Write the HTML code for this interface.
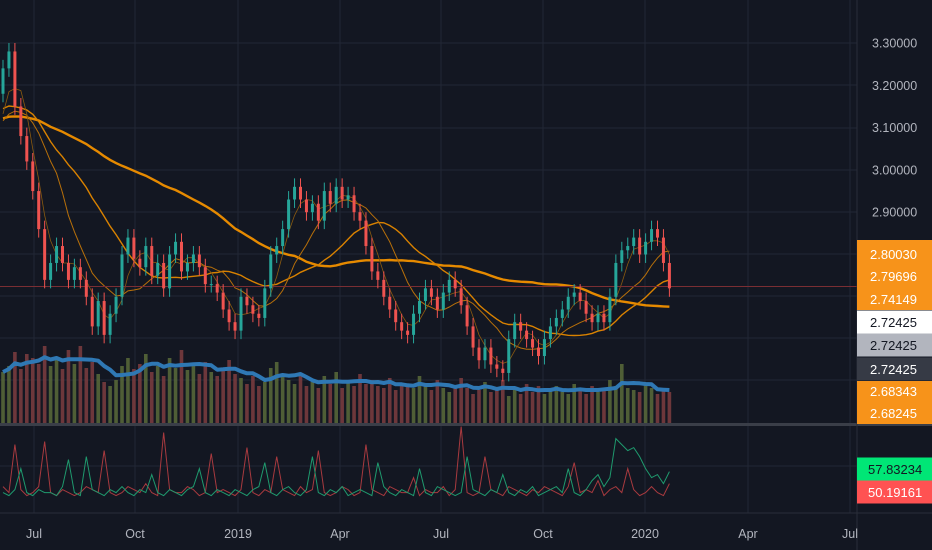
<!DOCTYPE html>
<html><head><meta charset="utf-8"><style>
html,body{margin:0;padding:0;background:#131722;width:932px;height:550px;overflow:hidden;font-family:"Liberation Sans",sans-serif}
svg{display:block}
</style></head><body>
<svg id="chart" width="932" height="550" xmlns="http://www.w3.org/2000/svg">
<rect x="0" y="0" width="932" height="550" fill="#131722"/>
<g id="grid"></g>
<g id="vol"></g>
<g id="mas"></g>
<g id="candles"></g>
<g id="osc"></g>
<g id="axes"></g>
</svg>
<script>
const closes=[3.24,3.28,3.15,3.08,3.02,2.95,2.86,2.74,2.78,2.82,2.78,2.74,2.77,2.74,2.70,2.63,2.69,2.61,2.66,2.70,
2.80,2.84,2.79,2.77,2.82,2.75,2.78,2.72,2.80,2.83,2.76,2.78,2.80,2.77,2.73,2.73,2.71,2.67,2.64,2.62,
2.70,2.68,2.66,2.65,2.72,2.80,2.82,2.86,2.93,2.96,2.93,2.90,2.92,2.88,2.95,2.92,2.96,2.93,2.94,2.90,
2.88,2.82,2.76,2.74,2.70,2.67,2.64,2.62,2.61,2.66,2.69,2.72,2.70,2.67,2.71,2.74,2.72,2.68,2.63,2.58,
2.55,2.58,2.54,2.53,2.52,2.60,2.64,2.62,2.60,2.58,2.56,2.60,2.63,2.65,2.67,2.70,2.71,2.69,2.66,2.64,
2.66,2.64,2.70,2.78,2.81,2.82,2.84,2.80,2.83,2.86,2.84,2.78,2.72];
const history=[3.05,3.08,3.12,3.10,3.14,3.09,3.06,3.11,3.15,3.12,3.08,3.10,3.13,3.09,3.07,3.11,3.14,3.12,3.10,3.08,
3.11,3.13,3.10,3.07,3.09,3.12,3.15,3.13,3.10,3.08,3.12,3.16,3.18,3.14,3.12,3.15,3.20,3.22,3.25,3.22,
3.10,3.12,3.08,3.11,3.09,3.13,3.10,3.07,3.12,3.10];
const volumes=[52,58,72,55,70,66,60,78,58,64,55,74,60,78,56,62,50,42,38,44,
58,66,55,60,70,52,58,48,66,56,74,54,60,50,62,52,48,56,64,50,
46,40,48,38,42,56,62,48,44,40,50,38,42,36,48,40,52,36,42,38,
50,40,44,38,36,46,34,40,38,36,48,38,34,44,36,32,38,46,36,30,
34,42,32,36,44,28,34,30,40,32,38,30,34,38,32,30,40,34,30,38,
32,34,44,38,60,36,34,32,40,36,30,34,32];
const oscRed=[52,50,66,51,49,50,52,67,50,49,51,50,49,50,52,51,50,64,50,49,
50,52,51,50,53,50,49,70,51,50,50,52,51,49,50,63,50,51,50,49,
51,65,50,49,51,50,62,51,50,49,52,50,51,64,50,49,50,52,51,49,
50,66,51,50,49,52,51,50,50,55,49,51,50,50,52,49,51,72,50,49,
50,62,51,50,49,52,51,50,49,51,50,52,51,50,49,52,60,50,51,50,
54,49,51,52,50,58,51,49,50,52,50,49,53];
const oscGrn=[50,49,51,58,50,49,51,50,50,49,52,61,50,49,62,51,50,49,51,50,
52,50,49,51,50,56,50,49,51,50,49,51,52,58,50,49,51,50,49,51,
50,49,51,52,60,50,49,51,52,50,49,51,62,50,49,51,50,52,49,50,
51,50,49,60,52,50,49,51,50,49,58,50,49,52,51,50,49,50,62,51,
50,49,51,50,56,50,49,51,50,52,49,50,51,52,50,58,50,49,51,54,
56,52,55,68,66,64,65,62,58,55,56,53,57];
const timeLabels=["Jul","Oct","2019","Apr","Jul","Oct","2020","Apr","Jul"];
const timeLabelX=[34,135,238,340,441,543,645,748,850];
const priceTicks=[3.3,3.2,3.1,3.0,2.9];
const priceTags=["2.80030","2.79696","2.74149","2.72425","2.72425","2.72425","2.68343","2.68245"];
const oscTags=["57.83234","50.19161"];

const NS="http://www.w3.org/2000/svg";
function mk(tag,attrs,parent){const e=document.createElementNS(NS,tag);for(const k in attrs)e.setAttribute(k,attrs[k]);parent.appendChild(e);return e;}
const PW=857;
const yP=p=>43+(3.3-p)*423;
const xI=i=>3+i*5.95;
const yV=v=>424-v;
const yO=v=>492-(v-50.19)*3.0;

const grid=document.getElementById('grid');
[43,85,128,170,212,254,296,338,380,466].forEach(y=>{const l=mk('line',{x1:0,x2:PW,y1:y,y2:y,stroke:'#222735','stroke-width':1},grid);});
timeLabelX.forEach(x=>{const l=mk('line',{x1:x,x2:x,y1:0,y2:513,stroke:'#222735','stroke-width':1},grid);});

const vol=document.getElementById('vol');
volumes.forEach((v,i)=>{const up=closes[i]>=(i?closes[i-1]:closes[0]);
const r=mk('rect',{x:xI(i)-1.8,y:yV(v),width:3.6,height:v,fill:up?'#5b6b3a':'#7e3d3f',opacity:0.85},vol);
});
let vpts=[];volumes.forEach((v,i)=>{let s=0,n=0;for(let k=Math.max(0,i-5);k<=i;k++){s+=volumes[k];n++;}vpts.push(xI(i)+','+yV(s/n).toFixed(1));});
const vl=mk('polyline',{points:vpts.join(' '),fill:'none',stroke:'#2f78b4','stroke-width':4,'stroke-linejoin':'round'},vol);


const all=history.concat(closes);const H=history.length;
const mas=document.getElementById('mas');
[[50,'#e68a00',2.4],[20,'#d98200',1.4],[10,'#b8700a',1],[4,'#8a5a10',0.8]].forEach(([p,c,w])=>{
let pts=[];for(let i=0;i<closes.length;i++){let s=0;for(let k=H+i-p+1;k<=H+i;k++)s+=all[k];pts.push(xI(i)+','+yP(s/p).toFixed(1));}
const l=mk('polyline',{points:pts.join(' '),fill:'none',stroke:c,'stroke-width':w},mas);
});
const cl=mk('line',{x1:0,x2:PW,y1:yP(2.72425),y2:yP(2.72425),stroke:'#7a2e33','stroke-width':1},mas);


const cg=document.getElementById('candles');
closes.forEach((c,i)=>{const o=i?closes[i-1]:3.18;const up=c>=o;const col=up?'#26a69a':'#ef5350';
const hi=Math.max(o,c)+0.02,lo=Math.min(o,c)-0.02;const x=xI(i);
const g=mk('g',{},cg);
mk('line',{x1:x,x2:x,y1:yP(hi),y2:yP(lo),stroke:col,'stroke-width':1},g);
mk('rect',{x:x-1.5,y:yP(Math.max(o,c)),width:3,height:Math.max(1,Math.abs(yP(o)-yP(c))),fill:col},g);});

const og=document.getElementById('osc');
[[oscRed,'#a83a3f'],[oscGrn,'#1f9a6e']].forEach(([arr,c],j)=>{const pts=arr.map((v,i)=>xI(i)+','+yO(v).toFixed(1));
const l=mk('polyline',{points:pts.join(' '),fill:'none',stroke:c,'stroke-width':1},og);
});

const ax=document.getElementById('axes');
let d=mk('rect',{x:0,y:423,width:932,height:3,fill:'#3a3e48'},ax);
d=mk('line',{x1:0,x2:932,y1:513,y2:513,stroke:'#2a2e39'},ax);
d=mk('line',{x1:857,x2:857,y1:0,y2:550,stroke:'#2a2e39'},ax);
priceTicks.forEach(p=>{const t=mk('text',{x:872,y:yP(p)+4.5,fill:'#b2b5be','font-size':12.5},ax);t.textContent=p.toFixed(5);
});
timeLabels.forEach((s,i)=>{const t=mk('text',{x:timeLabelX[i],y:538,fill:'#b2b5be','font-size':12.5,'text-anchor':'middle'},ax);t.textContent=s;
});
const tagStyle=[['#f7931a','#fff'],['#f7931a','#fff'],['#f7931a','#fff'],['#ffffff','#131722'],['#b2b5be','#131722'],['#363a45','#fff'],['#f7931a','#fff'],['#f7931a','#fff']];
const tagY=[254,276,299,322,345,369,391,413];
[[240,310,'#f7931a'],[381,424,'#f7931a']].forEach(([a,b,c])=>{const r=mk('rect',{x:857,y:a,width:75,height:b-a,fill:c},ax);});
priceTags.forEach((s,i)=>{const [bg,fg]=tagStyle[i];
if(i>=3&&i<=5){const r=mk('rect',{x:857,y:tagY[i]-11.5,width:75,height:23,fill:bg},ax);}
const t=mk('text',{x:870,y:tagY[i]+5,fill:fg,'font-size':13},ax);t.textContent=s;
});
[['#00e676','#131722',469],['#ff5252','#fff',492]].forEach(([bg,fg,y],i)=>{
const r=mk('rect',{x:857,y:y-11.5,width:75,height:23,fill:bg},ax);
const t=mk('text',{x:868,y:y+5,fill:fg,'font-size':13},ax);t.textContent=oscTags[i];
});
</script>
</body></html>
